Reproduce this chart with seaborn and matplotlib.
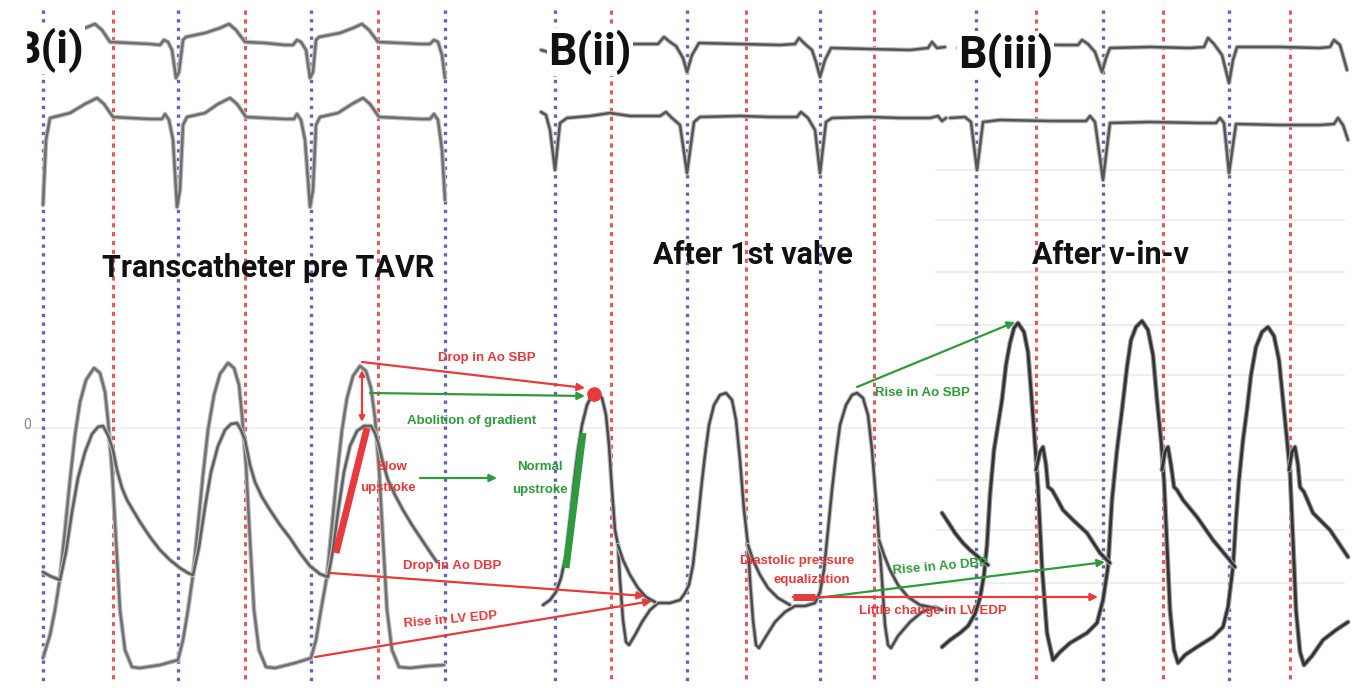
import numpy as np
import pandas as pd
import seaborn as sns
import matplotlib.pyplot as plt
from matplotlib import patheffects as pe

sns.set_theme(style='white')
plt.rcParams['font.family'] = ['Roboto', 'DejaVu Sans']

# beat markers (time axis, px units): blue = onset of systole, red = end of ejection
blue_i = [43, 178, 311, 445]
red_i = [113, 245, 378]
blue_ii = [555, 687, 820]
red_ii = [611, 746, 874]
blue_iii = [976, 1103, 1229]
red_iii = [1036, 1163, 1290]

# ECG tracings (time, amplitude)
ecg_top_i = [(45, 42), (52, 37), (70, 33), (85, 28), (95, 24), (102, 30), (110, 42), (130, 43), (150, 44),
             (160, 45), (164, 40), (168, 42), (172, 50), (176, 78), (179, 72), (183, 40),
             (186, 37), (205, 33), (220, 28), (229, 24), (236, 30), (245, 42), (265, 43), (285, 45),
             (293, 45), (297, 40), (301, 42), (306, 50), (310, 78), (313, 72), (316, 40),
             (319, 37), (340, 33), (353, 28), (362, 24), (369, 30), (378, 42), (400, 43), (420, 44),
             (430, 44), (434, 40), (438, 42), (442, 55), (445, 78)]
ecg_bot_i = [(43, 205), (46, 140), (50, 118), (70, 113), (85, 104), (97, 98), (104, 104), (113, 117),
             (130, 118), (150, 119), (162, 119), (165, 114), (169, 120), (173, 140), (177, 207), (180, 190),
             (183, 125), (187, 117), (205, 113), (218, 104), (230, 98), (237, 104), (246, 117), (265, 118),
             (285, 119), (294, 119), (297, 114), (301, 120), (305, 140), (310, 207), (313, 190), (316, 125),
             (320, 117), (338, 113), (352, 104), (363, 98), (370, 104), (379, 117), (400, 118), (420, 119),
             (430, 119), (434, 114), (438, 120), (442, 150), (445, 200)]
ecg_top_ii = [(541, 50), (548, 52), (552, 62), (555, 75), (559, 60), (564, 47), (590, 44), (630, 44),
              (658, 44), (664, 37), (670, 42), (676, 46), (683, 58), (687, 72), (692, 55), (699, 43),
              (740, 44), (780, 45), (795, 44), (799, 38), (805, 44), (812, 50), (816, 62), (820, 77),
              (825, 60), (831, 48), (870, 49), (910, 50), (928, 48), (932, 42), (937, 48), (945, 47)]
ecg_bot_ii = [(541, 112), (546, 115), (550, 130), (555, 170), (560, 123), (567, 118), (590, 116), (610, 113),
              (630, 116), (660, 116), (666, 112), (672, 118), (680, 125), (687, 173), (694, 122), (700, 117),
              (740, 116), (770, 117), (797, 117), (801, 112), (808, 118), (815, 130), (820, 173), (826, 122),
              (832, 118), (870, 117), (900, 118), (930, 118), (938, 116), (942, 121), (946, 118)]
ecg_top_iii = [(958, 48), (966, 46), (970, 40), (973, 48), (977, 75), (982, 55), (987, 45), (1020, 44),
               (1060, 45), (1078, 45), (1082, 40), (1088, 44), (1095, 52), (1102, 72), (1106, 58), (1110, 48),
               (1150, 47), (1190, 48), (1204, 47), (1208, 38), (1214, 44), (1222, 55), (1229, 83), (1233, 60),
               (1237, 47), (1280, 47), (1320, 48), (1330, 47), (1334, 40), (1340, 45), (1347, 70)]
ecg_bot_iii = [(950, 118), (965, 117), (971, 122), (977, 170), (983, 122), (1000, 120), (1050, 121),
               (1086, 121), (1090, 116), (1095, 122), (1103, 180), (1110, 123), (1150, 122), (1200, 123),
               (1216, 123), (1220, 118), (1224, 123), (1229, 173), (1236, 124), (1280, 125), (1320, 125),
               (1334, 124), (1338, 118), (1343, 125), (1348, 140)]

# pressure tracings (time, pressure) - LV and aortic
lv_i = [(43, 658), (50, 635), (55, 610), (60, 578), (65, 530), (70, 480), (75, 435), (80, 402), (86, 380),
        (94, 368), (100, 373), (105, 392), (108, 420), (112, 470), (116, 540), (120, 610), (125, 650), (132, 667),
        (140, 668), (160, 665), (178, 660),
        (183, 640), (188, 610), (193, 575), (198, 525), (203, 475), (208, 430), (214, 395), (220, 374),
        (228, 363), (234, 368), (239, 385), (242, 415), (246, 465), (250, 540), (254, 610), (259, 650), (266, 667),
        (275, 668), (295, 663), (311, 658),
        (316, 640), (321, 610), (327, 576), (332, 525), (337, 475), (342, 430), (347, 398), (353, 376),
        (360, 366), (366, 371), (371, 388), (375, 418), (379, 468), (383, 540), (387, 610), (392, 650), (399, 667),
        (410, 668), (428, 666), (444, 665)]
ao_i = [(43, 572), (50, 576), (60, 580), (66, 552), (72, 512), (78, 478), (85, 452), (92, 434), (98, 427),
        (103, 426), (108, 435), (113, 450), (117, 470), (122, 488), (127, 500), (134, 512), (140, 522),
        (150, 537), (160, 550), (170, 560), (180, 568), (188, 573), (193, 575),
        (199, 547), (205, 507), (211, 472), (218, 446), (225, 430), (231, 424), (237, 423), (241, 430),
        (245, 440), (250, 465), (255, 482), (262, 497), (270, 510), (280, 525), (290, 538), (300, 553),
        (310, 566), (320, 574), (328, 577),
        (333, 550), (338, 512), (344, 472), (350, 446), (357, 431), (364, 426), (371, 426), (375, 433),
        (378, 442), (383, 463), (388, 480), (395, 495), (403, 510), (412, 525), (422, 540), (432, 555),
        (437, 562)]
lv_ii = [(543, 605), (550, 600), (556, 592), (561, 578), (566, 555), (570, 520), (574, 482), (578, 450),
         (582, 425), (587, 405), (592, 395), (597, 393), (602, 398), (606, 415), (609, 445), (612, 490),
         (615, 530), (618, 545), (620, 580), (623, 620), (626, 642), (629, 645), (635, 635), (642, 622),
         (650, 610), (658, 603), (670, 603), (680, 600), (685, 593), (689, 585), (693, 565), (697, 530),
         (701, 490), (705, 455), (709, 425), (714, 405), (720, 395), (726, 393), (732, 400), (736, 420),
         (740, 460), (744, 510), (748, 545), (750, 580), (753, 620), (756, 645), (759, 648), (765, 638),
         (775, 622), (785, 612), (795, 606), (805, 606), (815, 603), (820, 592), (824, 570), (828, 530),
         (832, 490), (836, 455), (840, 425), (846, 405), (852, 395), (857, 393), (863, 398), (868, 415),
         (872, 450), (876, 500), (879, 540), (882, 580), (885, 625), (888, 645), (891, 648), (898, 636),
         (910, 622), (922, 612), (935, 607), (942, 610)]
ao_ii = [[(618, 545), (623, 560), (630, 575), (638, 588), (646, 597), (655, 602)],
         [(748, 545), (753, 560), (760, 575), (768, 588), (778, 598), (790, 605)],
         [(879, 540), (884, 555), (890, 570), (898, 585), (908, 597), (920, 605), (935, 608)]]
lv_iii = [(942, 647), (950, 640), (960, 633), (968, 626), (975, 614), (980, 598), (984, 575), (987, 545),
          (990, 495), (994, 450), (998, 425), (1002, 400), (1006, 365), (1010, 343), (1014, 328), (1018, 323),
          (1024, 332), (1028, 352), (1031, 390), (1034, 430), (1038, 487), (1042, 567), (1047, 633),
          (1053, 660), (1060, 652), (1070, 643), (1087, 633), (1097, 623), (1103, 600), (1108, 567),
          (1112, 500), (1117, 450), (1122, 410), (1127, 367), (1131, 340), (1136, 327), (1142, 321),
          (1148, 330), (1153, 355), (1157, 400), (1161, 440), (1164, 480), (1167, 545), (1170, 610),
          (1174, 650), (1178, 663), (1185, 655), (1197, 647), (1213, 637), (1223, 627), (1228, 607),
          (1233, 567), (1236, 520), (1239, 480), (1243, 440), (1247, 410), (1251, 375), (1256, 347),
          (1262, 332), (1268, 327), (1274, 336), (1279, 360), (1283, 400), (1287, 440), (1290, 472),
          (1293, 540), (1296, 610), (1300, 652), (1304, 665), (1312, 656), (1323, 640), (1336, 630),
          (1348, 622)]
ao_iii = [[(942, 513), (948, 522), (955, 533), (963, 543), (970, 550), (976, 555), (983, 561), (988, 565)],
          [(1036, 470), (1040, 452), (1043, 447), (1046, 465), (1048, 487), (1052, 490), (1056, 497),
           (1063, 510), (1073, 520), (1087, 533), (1100, 553), (1110, 563)],
          [(1162, 470), (1165, 452), (1168, 447), (1171, 465), (1174, 487), (1177, 490), (1183, 500),
           (1197, 517), (1213, 540), (1228, 558), (1235, 567)],
          [(1289, 470), (1292, 452), (1295, 447), (1298, 465), (1300, 487), (1304, 492), (1313, 513),
           (1330, 530), (1348, 557)]]

# annotation arrows: (start, end, colour key)
arrow_start = [(362, 362), (370, 393), (420, 478), (330, 573), (315, 657), (857, 387), (817, 598), (793, 597)]
arrow_end = [(585, 388), (585, 396), (497, 478), (645, 596), (652, 601), (1015, 322), (1105, 562), (1098, 597)]
arrow_col = ['r', 'g', 'g', 'r', 'r', 'g', 'g', 'r']
# thick highlighted segments
seg_start = [(336, 553), (566, 568), (793, 597)]
seg_end = [(367, 428), (583, 433), (815, 597)]
seg_col = ['r', 'g', 'r']

notes = ['Drop in Ao SBP', 'Abolition of gradient', 'Slow', 'upstroke', 'Normal', 'upstroke',
         'Drop in Ao DBP', 'Rise in LV EDP', 'Diastolic pressure', 'equalization', 'Rise in Ao SBP',
         'Rise in Ao DBP', 'Little change in LV EDP']
note_pos = [(487, 358), (472, 421), (392, 467), (388, 488), (540, 467), (540, 490), (452, 566),
            (450, 620), (797, 561), (812, 580), (922, 393), (940, 567), (933, 611)]
note_col = ['r', 'g', 'r', 'r', 'g', 'g', 'r', 'r', 'r', 'r', 'g', 'g', 'r']
note_rot = [0, 0, 0, 0, 0, 0, 0, 5, 0, 0, 0, 5, 0]

titles = ['Transcatheter pre TAVR', 'After 1st valve', 'After v-in-v']
title_x = [268, 753, 1110]
title_y = [268, 255, 255]
panels = ['B(i)', 'B(ii)', 'B(iii)']

grid_y = [170, 220, 272, 325, 375, 428, 480, 530, 583]

RED, GREEN, BLUE = '#e8393b', '#2f9a3c', '#4848b4'
cmap = {'r': RED, 'g': GREEN}

fig = plt.figure(figsize=(13.7, 6.96), dpi=100)
ax = fig.add_axes([0, 0, 1, 1])

# faint paper grid
ax.hlines(grid_y, 935, 1345, color='#ebebeb', lw=1.2, zorder=0)
ax.hlines([428], 25, 445, color='#eeeeee', lw=1.2, zorder=0)
ax.hlines([428], 540, 935, color='#eeeeee', lw=1.2, zorder=0)

# timing markers
for xs in (blue_i, blue_ii, blue_iii):
    ax.vlines(xs, 10, 682, color=BLUE, lw=2.4, linestyles=[(0, (1, 1.6))], alpha=0.85, zorder=1)
for xs in (red_i, red_ii, red_iii):
    ax.vlines(xs, 10, 682, color=RED, lw=2.2, linestyles=[(0, (1.4, 1.5))], alpha=0.85, zorder=1)


def trace(pts, color, lw, halo='#bdbdbd'):
    df = pd.DataFrame(pts, columns=['t', 'p'])
    sns.lineplot(data=df, x='t', y='p', sort=False, estimator=None, color=color, lw=lw, ax=ax,
                 zorder=3, path_effects=[pe.Stroke(linewidth=lw + 1.6, foreground=halo), pe.Normal()])


for pts in (ecg_top_i, ecg_bot_i):
    trace(pts, '#6e6e6e', 1.8)
for pts in (ecg_top_ii, ecg_bot_ii, ecg_top_iii, ecg_bot_iii):
    trace(pts, '#555555', 1.8)
trace(lv_i, '#707070', 1.8)
trace(ao_i, '#606060', 1.8)
trace(lv_ii, '#4a4a4a', 1.8)
for pts in ao_ii:
    trace(pts, '#4a4a4a', 1.8)
trace(lv_iii, '#333333', 2.0, halo='#9a9a9a')
for pts in ao_iii:
    trace(pts, '#333333', 2.0, halo='#9a9a9a')

# annotations
for s, e, c in zip(arrow_start, arrow_end, arrow_col):
    ax.annotate('', xy=e, xytext=s, zorder=5,
                arrowprops=dict(arrowstyle='-|>', color=cmap[c], lw=1.6, mutation_scale=11, shrinkA=0, shrinkB=0))
ax.annotate('', xy=(362, 370), xytext=(362, 422), zorder=5,
            arrowprops=dict(arrowstyle='<|-|>', color=RED, lw=1.6, mutation_scale=8, shrinkA=0, shrinkB=0))
for s, e, c in zip(seg_start, seg_end, seg_col):
    ax.plot([s[0], e[0]], [s[1], e[1]], color=cmap[c], lw=5, solid_capstyle='butt', zorder=6)
ax.scatter([594], [394], s=90, color=RED, zorder=6)

for txt, (x, y), c, r in zip(notes, note_pos, note_col, note_rot):
    ax.text(x, y, txt, color=cmap[c], fontsize=9.5, fontweight='bold', ha='center', va='center',
            rotation=r, zorder=7, family=['Liberation Sans', 'DejaVu Sans'])
ax.text(27, 425, '0', color='#888888', fontsize=10, ha='center', va='center')

for t, x, y in zip(titles, title_x, title_y):
    ax.text(x, y, t, fontsize=22, fontweight='bold', ha='center', va='center', color='#111111', zorder=7)

lab = dict(fontsize=32, fontweight='bold', va='center', color='#111111', zorder=8,
           bbox=dict(facecolor='white', edgecolor='none', pad=1))
ax.text(12, 50, panels[0], ha='left', **lab)
ax.text(548, 52, panels[1], ha='left', **lab)
ax.text(958, 55, panels[2], ha='left', **lab)
# left edge of the first panel label is cropped in the source figure
ax.axvspan(0, 26, ymin=1 - 85 / 696, ymax=1 - 15 / 696, color='white', zorder=9)

ax.set_xlim(0, 1370)
ax.set_ylim(696, 0)
ax.axis('off')
fig.savefig('out.png', dpi=100, facecolor='white')
